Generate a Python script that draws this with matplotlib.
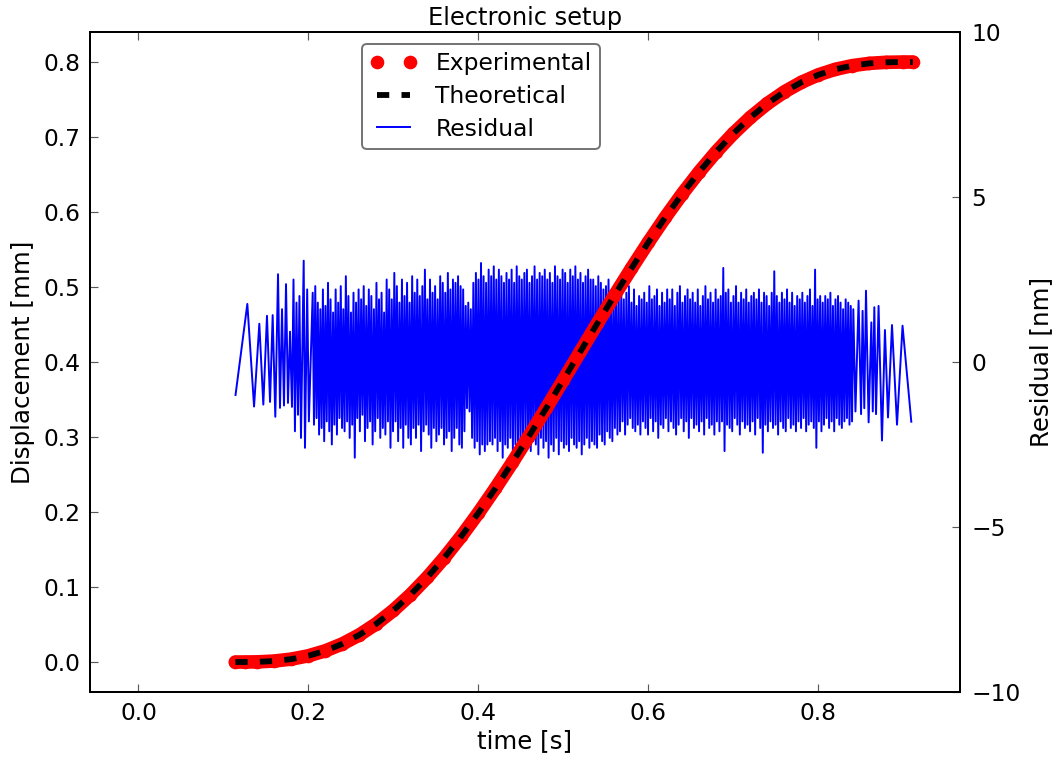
import numpy as np
import matplotlib
matplotlib.use("Agg")
import matplotlib.pyplot as plt
from matplotlib.lines import Line2D

# displacement curve (s, mm)
t_curve = [0.114, 0.125, 0.140, 0.160, 0.180, 0.200, 0.220, 0.240, 0.260, 0.280,
           0.300, 0.320, 0.340, 0.360, 0.380, 0.400, 0.420, 0.440, 0.460, 0.480,
           0.500, 0.520, 0.540, 0.560, 0.580, 0.600, 0.620, 0.640, 0.660, 0.680,
           0.700, 0.720, 0.740, 0.760, 0.780, 0.800, 0.820, 0.840, 0.860, 0.880,
           0.900, 0.911]
disp_exp = [0.0000, 0.0000, 0.0002, 0.0013, 0.0039, 0.0083, 0.0150, 0.0242, 0.0362, 0.0511,
            0.0689, 0.0896, 0.1131, 0.1393, 0.1679, 0.1988, 0.2317, 0.2662, 0.3021, 0.3389,
            0.3764, 0.4141, 0.4517, 0.4888, 0.5249, 0.5598, 0.5932, 0.6246, 0.6538, 0.6806,
            0.7048, 0.7262, 0.7447, 0.7603, 0.7730, 0.7830, 0.7903, 0.7952, 0.7982, 0.7996,
            0.8000, 0.8000]
disp_theo = [0.0000, 0.0000, 0.0002, 0.0013, 0.0039, 0.0083, 0.0150, 0.0242, 0.0362, 0.0511,
             0.0689, 0.0896, 0.1131, 0.1393, 0.1679, 0.1988, 0.2317, 0.2662, 0.3021, 0.3389,
             0.3764, 0.4141, 0.4517, 0.4888, 0.5249, 0.5598, 0.5932, 0.6246, 0.6538, 0.6806,
             0.7048, 0.7262, 0.7447, 0.7603, 0.7730, 0.7830, 0.7903, 0.7952, 0.7982, 0.7996,
             0.8000, 0.8000]

# residual sample times in ms (sparse at both ends, dense in the middle)
t_res_ms = [114.2, 128.1, 136.0, 142.2, 146.9, 151.2, 154.8, 157.9, 161.0, 164.2,
            166.5, 168.9, 171.2, 173.6, 175.9, 178.3, 180.6, 182.4, 184.1, 185.9,
            187.7, 189.4, 191.2, 194.4, 195.9, 198.5, 200.5,
            205, 206.5, 208, 209.5, 211, 212.5, 214, 215.5, 217, 218.5, 220, 221.5, 223, 224.5, 226, 227.5, 229, 230.5, 232, 233.5,
            235, 236.5, 238, 239.5, 241, 242.5, 244, 245.5, 247, 248.5, 250, 251.5, 253, 254.5, 256, 257.5, 259, 260.5, 262, 263.5,
            265, 266.5, 268, 269.5, 271, 272.5, 274, 275.5, 277, 278.5, 280, 281.5, 283, 284.5, 286, 287.5, 289, 290.5, 292, 293.5,
            295, 296.5, 298, 299.5, 301, 302.5, 304, 305.5, 307, 308.5, 310, 311.5, 313, 314.5, 316, 317.5, 319, 320.5, 322, 323.5,
            325, 326.5, 328, 329.5, 331, 332.5, 334, 335.5, 337, 338.5, 340, 341.5, 343, 344.5, 346, 347.5, 349, 350.5, 352, 353.5,
            355, 356.5, 358, 359.5, 361, 362.5, 364, 365.5, 367, 368.5, 370, 371.5, 373, 374.5, 376, 377.5, 379, 380.5, 382, 383.5,
            385, 386.5, 388, 389.5, 391, 392.5, 394, 395.5, 397, 398.5, 400, 401.5, 403, 404.5, 406, 407.5, 409, 410.5, 412, 413.5,
            415, 416.5, 418, 419.5, 421, 422.5, 424, 425.5, 427, 428.5, 430, 431.5, 433, 434.5, 436, 437.5, 439, 440.5, 442, 443.5,
            445, 446.5, 448, 449.5, 451, 452.5, 454, 455.5, 457, 458.5, 460, 461.5, 463, 464.5, 466, 467.5, 469, 470.5, 472, 473.5,
            475, 476.5, 478, 479.5, 481, 482.5, 484, 485.5, 487, 488.5, 490, 491.5, 493, 494.5, 496, 497.5, 499, 500.5, 502, 503.5,
            505, 506.5, 508, 509.5, 511, 512.5, 514, 515.5, 517, 518.5, 520, 521.5, 523, 524.5, 526, 527.5, 529, 530.5, 532, 533.5,
            535, 536.5, 538, 539.5, 541, 542.5, 544, 545.5, 547, 548.5, 550, 551.5, 553, 554.5, 556, 557.5, 559, 560.5, 562, 563.5,
            565, 566.5, 568, 569.5, 571, 572.5, 574, 575.5, 577, 578.5, 580, 581.5, 583, 584.5, 586, 587.5, 589, 590.5, 592, 593.5,
            595, 596.5, 598, 599.5, 601, 602.5, 604, 605.5, 607, 608.5, 610, 611.5, 613, 614.5, 616, 617.5, 619, 620.5, 622, 623.5,
            625, 626.5, 628, 629.5, 631, 632.5, 634, 635.5, 637, 638.5, 640, 641.5, 643, 644.5, 646, 647.5, 649, 650.5, 652, 653.5,
            655, 656.5, 658, 659.5, 661, 662.5, 664, 665.5, 667, 668.5, 670, 671.5, 673, 674.5, 676, 677.5, 679, 680.5, 682, 683.5,
            685, 686.5, 688, 689.5, 691, 692.5, 694, 695.5, 697, 698.5, 700, 701.5, 703, 704.5, 706, 707.5, 709, 710.5, 712, 713.5,
            715, 716.5, 718, 719.5, 721, 722.5, 724, 725.5, 727, 728.5, 730, 731.5, 733, 734.5, 736, 737.5, 739, 740.5, 742, 743.5,
            745, 746.5, 748, 749.5, 751, 752.5, 754, 755.5, 757, 758.5, 760, 761.5, 763, 764.5, 766, 767.5, 769, 770.5, 772, 773.5,
            775, 776.5, 778, 779.5, 781, 782.5, 784, 785.5, 787, 788.5, 790, 791.5, 793, 794.5, 796, 797.5, 799, 800.5, 802, 803.5,
            805, 806.5, 808, 809.5, 811, 812.5, 814, 815.5, 817, 818.5, 820, 821.5, 823, 824.5, 826, 827.5, 829, 830.5, 832, 833.5,
            835, 836.5, 838, 839.5, 841,
            843.5, 847.2, 850.1, 851.9, 853.9, 855.9, 859.0, 862.2, 863.9,
            865.7, 867.7, 870.7, 874.7, 878.2, 881.8, 886.5, 892.4, 898.9, 909.2]
# residual in nm
residual = [-1.00, 1.76, -1.35, 1.16, -1.29, 1.40, -1.21, 1.42, -1.66, 2.66,
            -1.39, 1.60, -1.32, 2.36, -1.24, 0.92, -1.36, 2.50, -2.10, 1.80,
            -1.60, 2.00, -2.30, 3.07, -2.60, 2.20, -1.80,
            2.1, -1.9, 2.3, -1.7, 1.8, -2.2, 1.6, -2.0, 2.2, -2.4, 1.7, -1.8, 2.4, -2.1, 1.9, -2.5, 1.5, -1.9, 2.2, -2.2,
            1.8, -1.7, 2.3, -2.0, 1.6, -2.1, 2.6, -1.8, 2.0, -2.3, 1.5, -1.9, 2.1, -2.9, 1.8, -1.7, 2.2, -2.1, 1.9, -1.6,
            2.3, -2.4, 1.7, -2.0, 2.2, -1.8, 2.0, -2.5, 1.6, -2.1, 2.4, -1.7, 1.9, -2.3, 2.1, -2.0, 1.5, -2.2, 2.5, -1.8,
            2.2, -2.6, 1.9, -2.1, 2.7, -1.8, 2.3, -2.4, 1.8, -2.0, 2.5, -2.6, 2.0, -1.9, 2.4, -2.3, 1.8, -2.5, 2.6, -2.0,
            2.1, -2.3, 2.5, -1.9, 2.0, -2.7, 2.3, -2.1, 2.8, -1.9, 1.9, -2.2, 2.5, -2.6, 2.1, -2.0, 2.3, -2.4, 1.9, -2.2,
            2.6, -2.0, 2.4, -2.5, 2.1, -2.3, 2.7, -2.1, 2.2, -2.7, 2.5, -2.3, 2.4, -2.0, 2.6, -2.5, 2.3, -2.6, 2.2, -2.1,
            1.7, -1.4, 1.8, -1.5, 1.6, -2.3, 2.4, -2.6, 2.7, -2.4, 2.5, -2.8, 3.0, -2.5, 2.6, -2.7, 2.4, -2.5, 2.8, -2.4,
            2.6, -2.5, 2.9, -2.3, 2.5, -2.7, 2.8, -2.4, 2.6, -2.9, 2.4, -2.5, 2.7, -2.6, 2.5, -2.3, 2.8, -2.7, 2.4, -2.5,
            2.9, -2.4, 2.6, -2.8, 2.5, -2.5, 2.7, -2.3, 2.8, -2.6, 2.4, -2.7, 2.6, -2.4, 2.9, -2.5, 2.5, -2.8, 2.7, -2.3,
            2.6, -2.6, 2.8, -2.4, 2.5, -2.9, 2.7, -2.5, 2.4, -2.7, 2.9, -2.3, 2.6, -2.8, 2.5, -2.4, 2.8, -2.6, 2.7, -2.5,
            2.4, -2.7, 2.8, -2.3, 2.6, -2.5, 2.9, -2.6, 2.5, -2.4, 2.7, -2.8, 2.4, -2.5, 2.6, -2.3, 2.8, -2.6, 2.5, -2.4,
            2.5, -2.5, 2.3, -2.6, 2.6, -2.2, 2.4, -2.4, 2.2, -2.5, 2.3, -2.1, 2.5, -2.3, 2.1, -2.4, 2.2, -2.0, 2.3, -2.2,
            2.0, -2.1, 2.2, -1.8, 1.9, -2.2, 2.1, -1.9, 2.3, -1.7, 1.8, -2.0, 2.2, -2.1, 1.7, -1.9, 2.0, -2.2, 1.9, -1.8,
            2.1, -2.0, 1.8, -2.2, 2.3, -1.7, 1.9, -2.1, 2.0, -1.8, 2.2, -2.3, 1.7, -1.9, 2.1, -2.0, 1.8, -1.7, 2.2, -2.1,
            1.9, -1.8, 2.2, -2.0, 1.7, -2.2, 2.1, -1.9, 2.3, -1.7, 1.8, -2.1, 2.0, -1.8, 2.2, -2.3, 1.9, -1.7, 2.1, -2.0,
            1.8, -1.9, 2.2, -2.1, 1.7, -1.8, 2.0, -2.2, 2.3, -1.7, 1.9, -2.0, 2.1, -1.9, 1.8, -2.2, 2.2, -1.8, 1.9, -2.1,
            2.0, -1.8, 2.85, -2.7, 2.1, -1.9, 2.2, -2.0, 1.8, -2.1, 2.0, -1.7, 2.3, -1.9, 1.8, -2.2, 2.1, -1.8, 1.9, -2.0,
            2.2, -1.9, 1.8, -2.1, 2.0, -1.8, 2.1, -2.2, 1.9, -1.7, 2.2, -2.0, 1.8, -2.75, 2.1, -1.9, 2.0, -2.1, 1.7, -1.8,
            2.1, -2.0, 2.75, -1.9, 2.0, -2.2, 1.8, -1.8, 2.1, -2.0, 1.9, -2.1, 2.2, -1.7, 1.8, -2.0, 2.1, -1.9, 1.7, -2.1,
            2.0, -1.8, 1.9, -2.0, 2.1, -1.7, 1.8, -2.1, 2.0, -1.9, 2.2, -1.8, 1.7, -2.0, 2.8, -2.6, 1.9, -1.8, 2.0, -2.1,
            1.8, -1.9, 2.0, -1.7, 1.9, -2.0, 2.1, -1.8, 1.7, -2.1, 1.9, -1.7, 2.0, -1.9, 1.8, -2.0, 1.6, -1.8, 1.9, -1.7,
            1.8, -1.9, 1.7, -1.8, 1.6,
            -1.50, 1.86, -1.58, 1.55, -1.40, 2.16, -1.83, 1.20, -1.50,
            1.66, -1.58, 1.70, -2.38, 0.97, -1.68, 1.12, -1.90, 1.10, -1.81]

plt.rcParams['font.family'] = 'DejaVu Sans'
plt.rcParams['font.size'] = 12
plt.rcParams['lines.scale_dashes'] = False

fig = plt.figure(figsize=(1059 / 140, 758 / 140), dpi=140)
ax = fig.add_axes([90 / 1059, 1 - 692 / 758, 870 / 1059, 660 / 758])
ax2 = ax.twinx()
ax.set_zorder(ax2.get_zorder() + 1)
ax.patch.set_visible(False)

t_res = np.array(t_res_ms) / 1000.0

# experimental points (thick band + dots), theory on top
ax.plot(t_curve, disp_exp, color='r', lw=7, solid_capstyle='round')
ax.plot(t_curve, disp_exp, 'o', color='r', ms=6, mew=1, mec='r')
theo, = ax.plot(t_curve, disp_theo, color='k', lw=3, dashes=(6.3, 6.3))
res, = ax2.plot(t_res, residual, color='b', lw=1)

ax.set_xlim(-0.057, 0.9665)
ax.set_ylim(-0.04, 0.84)
ax2.set_ylim(-10, 10)
ax.set_xticks([0.0, 0.2, 0.4, 0.6, 0.8])
ax.set_yticks(np.arange(0, 0.81, 0.1))
ax2.set_yticks([-10, -5, 0, 5, 10])

ax.tick_params(axis='x', direction='in', length=4, width=0.6, color='0.35',
               top=True, pad=5)
ax.tick_params(axis='y', direction='in', length=4, width=0.6, color='0.35', pad=5)
ax2.tick_params(axis='y', direction='in', length=4, width=0.6, color='0.35', pad=6)
for a in (ax, ax2):
    for sp in a.spines.values():
        sp.set_linewidth(1.0)

ax.set_title('Electronic setup', fontsize=12.4, pad=3.6)
ax.set_xlabel('time [s]', fontsize=12.6, labelpad=2)
ax.set_ylabel('Displacement [mm]', fontsize=12.6)
ax2.set_ylabel('Residual [nm]', fontsize=12.6)

exp_handle = Line2D([], [], marker='o', ls='none', color='r', ms=6, mew=1, mec='r')
leg = ax.legend([exp_handle, theo, res], ['Experimental', 'Theoretical', 'Residual'],
                loc='upper left', bbox_to_anchor=(0.3126, 0.982), borderaxespad=0,
                numpoints=2, fancybox=True, framealpha=1, labelspacing=0.42,
                borderpad=0.35)
leg.get_frame().set_edgecolor('0.45')
leg.get_frame().set_linewidth(1.0)

fig.savefig('out.png', dpi=140)
